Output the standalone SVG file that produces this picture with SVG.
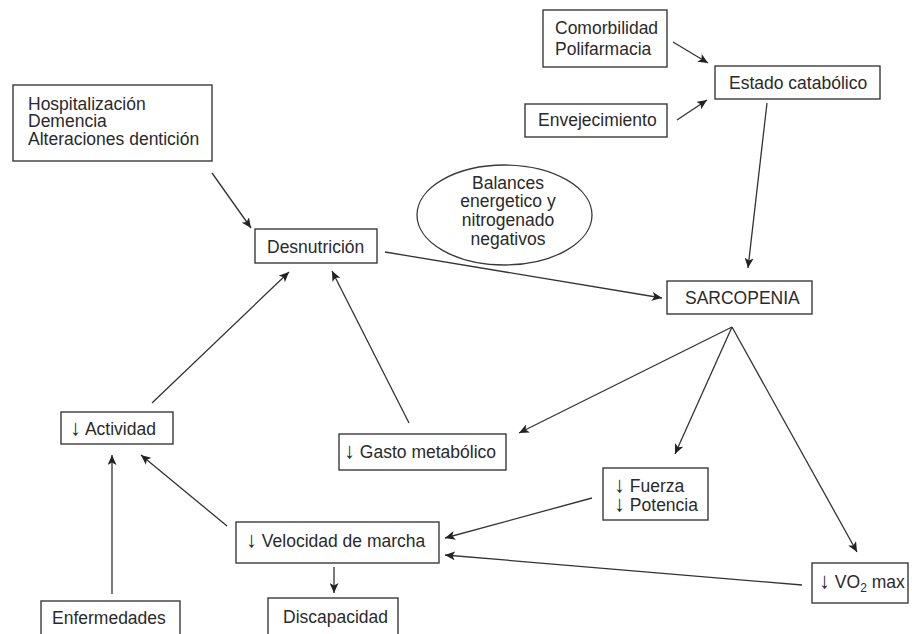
<svg xmlns="http://www.w3.org/2000/svg" width="912" height="634" viewBox="0 0 912 634">
<style>
.box{fill:#fff;stroke:#3a3a3a;stroke-width:1.4}
text{font-family:"Liberation Sans",Arial,sans-serif;font-size:17.5px;fill:#2a2a2a}
.c{text-anchor:middle}
.ar{font-size:22px}
.conn line{stroke:#333;stroke-width:1.3;marker-end:url(#ah)}
</style>
<defs>
<marker id="ah" markerUnits="userSpaceOnUse" markerWidth="11" markerHeight="9" refX="10" refY="4.5" orient="auto">
<path d="M0,0 L10,4.5 L0,9 L2.5,4.5 z" fill="#222"/>
</marker>
</defs>
<rect width="912" height="634" fill="#fff"/>
<g class="conn">
<line x1="673" y1="42" x2="708" y2="63"/>
<line x1="677" y1="120" x2="707" y2="100"/>
<line x1="767" y1="103" x2="748" y2="268"/>
<line x1="212" y1="173" x2="251" y2="228"/>
<line x1="385" y1="252" x2="662" y2="298"/>
<line x1="732" y1="327" x2="519" y2="433"/>
<line x1="732" y1="327" x2="675" y2="454"/>
<line x1="732" y1="327" x2="857" y2="552"/>
<line x1="592" y1="498" x2="445" y2="538"/>
<line x1="802" y1="585" x2="445" y2="555"/>
<line x1="227" y1="526" x2="141" y2="455"/>
<line x1="112" y1="594" x2="112" y2="455"/>
<line x1="334" y1="567" x2="334" y2="593"/>
<line x1="152" y1="403" x2="289" y2="272"/>
<line x1="409" y1="423" x2="332" y2="271"/>
</g>
<g id="comorbilidad"><rect class="box" x="543" y="10" width="124" height="57"/><text x="555" y="33.5">Comorbilidad</text><text x="555" y="54.5">Polifarmacia</text></g>
<g id="estado"><rect class="box" x="715" y="66" width="165" height="33"/><text x="729" y="89">Estado catabólico</text></g>
<g id="envejecimiento"><rect class="box" x="525" y="104" width="142" height="33"/><text x="538" y="125.5">Envejecimiento</text></g>
<g id="hospitalizacion"><rect class="box" x="13" y="85" width="199" height="76"/><text x="28" y="109.5">Hospitalización</text><text x="28" y="127">Demencia</text><text x="28" y="144.5">Alteraciones dentición</text></g>
<g id="desnutricion"><rect class="box" x="255" y="229" width="122" height="34"/><text x="267" y="253">Desnutrición</text></g>
<g id="balances"><ellipse cx="504.5" cy="215" rx="87.5" ry="50" fill="#fff" stroke="#3a3a3a" stroke-width="1.3"/><text class="c" x="508" y="188.5">Balances</text><text class="c" x="508" y="207">energetico y</text><text class="c" x="508" y="226">nitrogenado</text><text class="c" x="508" y="245">negativos</text></g>
<g id="sarcopenia"><rect class="box" x="667" y="281" width="145" height="33"/><text x="685" y="304">SARCOPENIA</text></g>
<g id="actividad"><rect class="box" x="61" y="412" width="112" height="32"/><text x="70" y="435"><tspan class="ar">↓</tspan> Actividad</text></g>
<g id="gasto"><rect class="box" x="339" y="434" width="167" height="36"/><text x="344" y="458"><tspan class="ar">↓</tspan> Gasto metabólico</text></g>
<g id="fuerza"><rect class="box" x="603" y="468" width="105" height="52"/><text x="614" y="492"><tspan class="ar">↓</tspan> Fuerza</text><text x="614" y="511"><tspan class="ar">↓</tspan> Potencia</text></g>
<g id="velocidad"><rect class="box" x="236" y="522" width="203" height="41"/><text x="246" y="547"><tspan class="ar">↓</tspan> Velocidad de marcha</text></g>
<g id="discapacidad"><rect class="box" x="268" y="598" width="130" height="42"/><text x="283" y="623">Discapacidad</text></g>
<g id="enfermedades"><rect class="box" x="41" y="601" width="139" height="42"/><text x="52" y="624">Enfermedades</text></g>
<g id="vo2"><rect class="box" x="812" y="563" width="96" height="40"/><text x="819" y="588"><tspan class="ar">↓</tspan> VO<tspan font-size="12" dy="4">2</tspan><tspan dy="-4"> max</tspan></text></g>
</svg>
